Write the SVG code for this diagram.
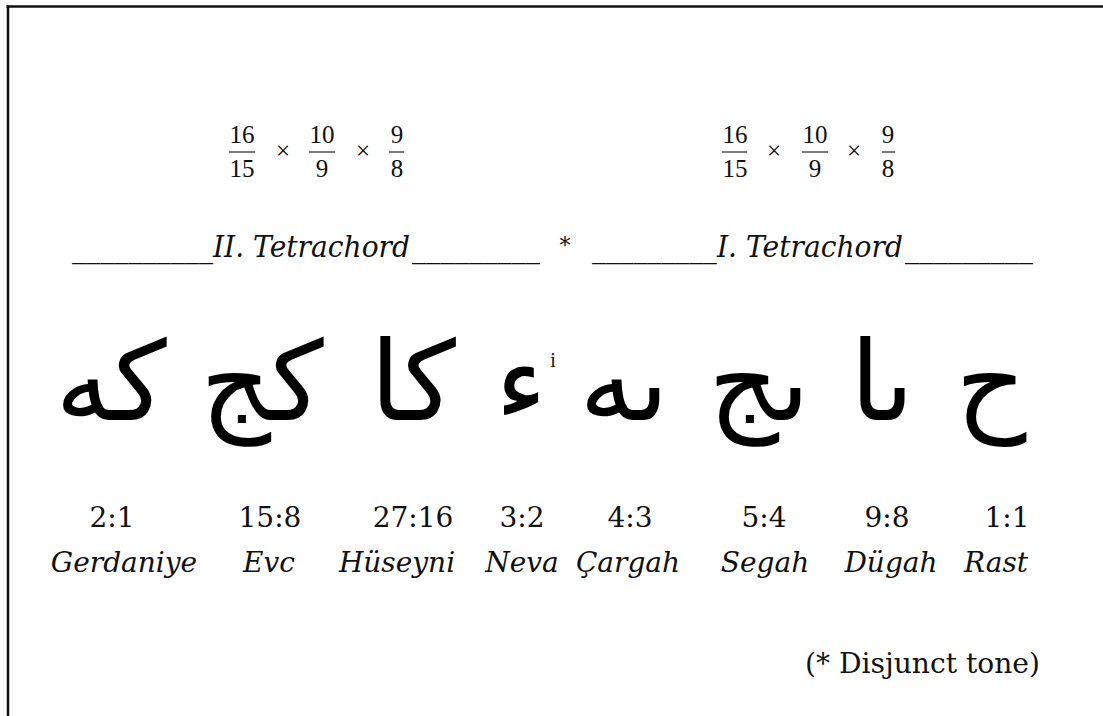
<svg xmlns="http://www.w3.org/2000/svg" width="1103" height="716" viewBox="0 0 1103 716">
<style>
.frac{font-family:"Liberation Serif","Times New Roman",serif;font-size:25px;fill:#111;text-anchor:middle}
.fl{stroke:#333;stroke-width:1.3}
.tet{font-family:"DejaVu Serif",serif;font-style:italic;font-size:29px;fill:#111}
.ar{font-family:"DejaVu Sans",sans-serif;font-size:110px;fill:#000;text-anchor:middle}
.rat{font-family:"DejaVu Serif",serif;font-size:28px;fill:#111;text-anchor:middle}
.nm{font-family:"DejaVu Serif",serif;font-style:italic;font-size:28px;fill:#111;text-anchor:middle}
.note{font-family:"DejaVu Serif",serif;font-size:28px;fill:#111}
.frame{stroke:#111;stroke-width:2.5;fill:none}
</style>
<g id="frame">
<line class="frame" x1="6.5" y1="6.5" x2="1103" y2="6.5"/>
<line class="frame" x1="8" y1="5.5" x2="8" y2="716"/>
</g>
<g id="ratios-II">
<text class="frac" x="242" y="143">16</text><line class="fl" x1="229" y1="152" x2="255" y2="152"/><text class="frac" x="242" y="177">15</text>
<text class="frac" x="283" y="159">×</text>
<text class="frac" x="322" y="143">10</text><line class="fl" x1="309" y1="152" x2="335" y2="152"/><text class="frac" x="322" y="177">9</text>
<text class="frac" x="363" y="159">×</text>
<text class="frac" x="397" y="143">9</text><line class="fl" x1="389" y1="152" x2="404" y2="152"/><text class="frac" x="397" y="177">8</text>
</g>
<g id="ratios-I">
<text class="frac" x="735" y="143">16</text><line class="fl" x1="722" y1="152" x2="747" y2="152"/><text class="frac" x="735" y="177">15</text>
<text class="frac" x="774" y="159">×</text>
<text class="frac" x="815" y="143">10</text><line class="fl" x1="802" y1="152" x2="828" y2="152"/><text class="frac" x="815" y="177">9</text>
<text class="frac" x="854" y="159">×</text>
<text class="frac" x="888" y="143">9</text><line class="fl" x1="882" y1="152" x2="895" y2="152"/><text class="frac" x="888" y="177">8</text>
</g>
<g id="tetrachord-II">
<text class="tet" y="257"><tspan x="72" textLength="141" lengthAdjust="spacingAndGlyphs">__________</tspan><tspan x="213" textLength="197" lengthAdjust="spacingAndGlyphs">II. Tetrachord</tspan><tspan x="412" textLength="128" lengthAdjust="spacingAndGlyphs">_________</tspan></text>
</g>
<g id="disjunct-mark">
<text class="tet" x="565" y="253" text-anchor="middle" style="font-style:normal;font-size:22px">*</text>
</g>
<g id="tetrachord-I">
<text class="tet" y="257"><tspan x="592" textLength="125" lengthAdjust="spacingAndGlyphs">_________</tspan><tspan x="717" textLength="186" lengthAdjust="spacingAndGlyphs">I. Tetrachord</tspan><tspan x="905" textLength="128" lengthAdjust="spacingAndGlyphs">_________</tspan></text>
</g>
<g id="note-gerdaniye"><text class="ar" x="111" y="420">كه</text><text class="rat" x="112" y="527">2:1</text><text class="nm" x="124" y="572">Gerdaniye</text></g>
<g id="note-evc"><text class="ar" x="262" y="420">كج</text><text class="rat" x="270" y="527">15:8</text><text class="nm" x="269" y="572">Evc</text></g>
<g id="note-huseyni"><text class="ar" x="413" y="420">كا</text><text class="rat" x="413" y="527">27:16</text><text class="nm" x="397" y="572">Hüseyni</text></g>
<g id="note-neva"><text class="ar" x="521" y="420">ء</text><text x="553" y="367" style="font-family:'Liberation Serif',serif;font-size:20px;fill:#111" text-anchor="middle">i</text><text class="rat" x="522" y="527">3:2</text><text class="nm" x="522" y="572">Neva</text></g>
<g id="note-cargah"><text class="ar" x="624" y="420">ٮه</text><text class="rat" x="630" y="527">4:3</text><text class="nm" x="628" y="572">Çargah</text></g>
<g id="note-segah"><text class="ar" x="759" y="420">ٮج</text><text class="rat" x="764" y="527">5:4</text><text class="nm" x="765" y="572">Segah</text></g>
<g id="note-dugah"><text class="ar" x="882" y="420">ٮا</text><text class="rat" x="887" y="527">9:8</text><text class="nm" x="891" y="572">Dügah</text></g>
<g id="note-rast"><text class="ar" x="991" y="420">ح</text><text class="rat" x="1007" y="527">1:1</text><text class="nm" x="996" y="572">Rast</text></g>
<g id="footnote"><text class="note" x="805" y="673" textLength="235" lengthAdjust="spacingAndGlyphs">(* Disjunct tone)</text></g>
<g id="connectors"/>
</svg>
